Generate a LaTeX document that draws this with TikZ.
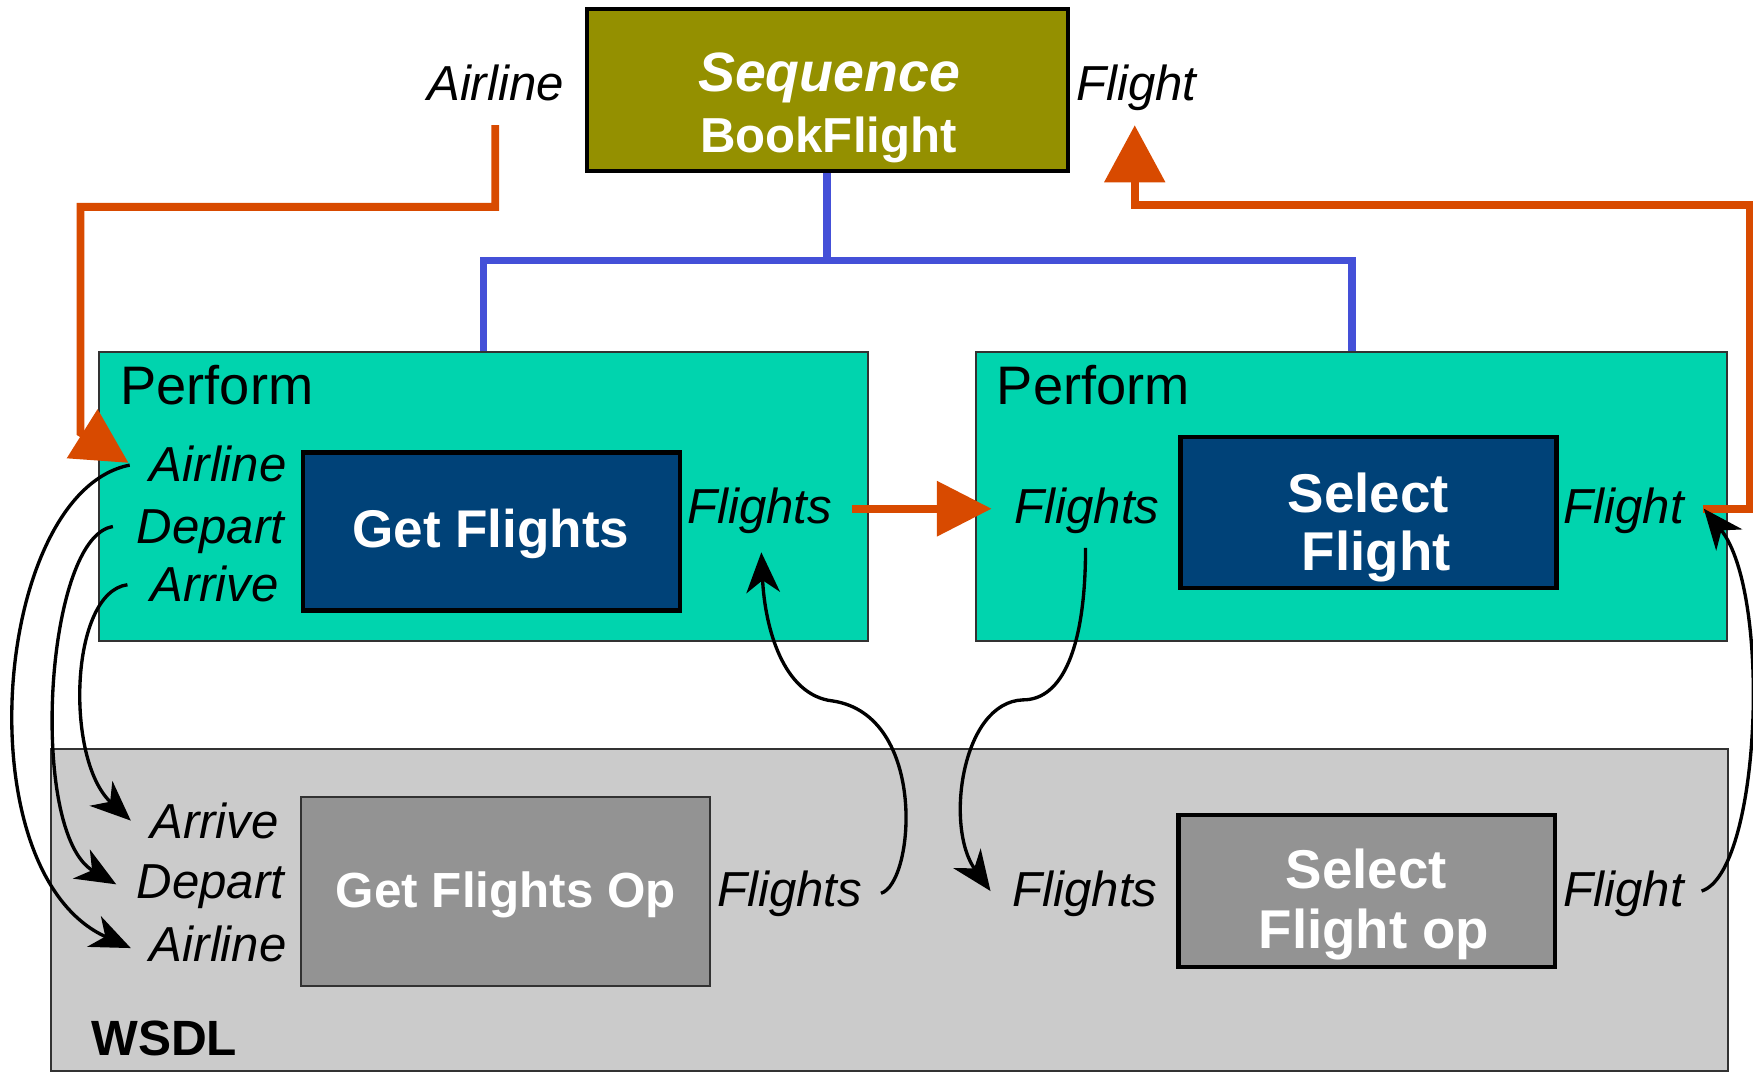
\documentclass[tikz,border=0pt]{standalone}
\usepackage{fontspec}
\setmainfont{Liberation Sans}
\usetikzlibrary{arrows.meta}
\definecolor{olivebox}{RGB}{148,144,0}
\definecolor{turq}{RGB}{0,212,174}
\definecolor{navybox}{RGB}{0,66,120}
\definecolor{opgray}{RGB}{147,147,147}
\definecolor{wsdlgray}{RGB}{203,203,203}
\definecolor{orangeln}{RGB}{216,74,0}
\definecolor{blueln}{RGB}{68,80,216}
\definecolor{thinborder}{RGB}{50,50,50}
\begin{document}
\begin{tikzpicture}[x=0.01cm,y=-0.01cm,
  thickbox/.style={draw=black,line width=1.15pt,inner sep=0,anchor=center},
  thinbox/.style={draw=thinborder,line width=0.5pt,inner sep=0,anchor=center},
  lbl/.style={inner sep=0,font=\fontsize{12.5}{15}\selectfont\itshape},
  perflbl/.style={inner sep=0,font=\fontsize{13.8}{16}\selectfont},
  boxtxt/.style={inner sep=0,text=white,font=\fontsize{13.9}{16}\selectfont\bfseries},
  orangeline/.style={draw=orangeln,line width=2pt},
  blueline/.style={draw=blueln,line width=2pt},
  curve/.style={draw=black,line width=0.85pt,-{Stealth[length=3.6mm,width=3mm,inset=1.1mm]}}
]
\useasboundingbox (0,0) rectangle (1568,959);

% containers
\node[thinbox,fill=wsdlgray,minimum width=14.99cm,minimum height=2.88cm] (wsdl) at (795.5,814) {};
\node[thinbox,fill=turq,minimum width=6.87cm,minimum height=2.58cm] (perf1) at (432.5,444) {};
\node[thinbox,fill=turq,minimum width=6.71cm,minimum height=2.58cm] (perf2) at (1209,444) {};

% boxes
\node[thickbox,fill=olivebox,minimum width=4.30cm,minimum height=1.45cm] (seq) at (740,80.5) {};
\node[thickbox,fill=navybox,minimum width=3.37cm,minimum height=1.41cm] (getF) at (439.5,475.5) {};
\node[thickbox,fill=navybox,minimum width=3.36cm,minimum height=1.35cm] (selF) at (1224,458.5) {};
\node[thinbox,fill=opgray,minimum width=3.66cm,minimum height=1.69cm] (getOp) at (452,797.5) {};
\node[thickbox,fill=opgray,minimum width=3.37cm,minimum height=1.36cm] (selOp) at (1222.5,797) {};

% box texts
\node[boxtxt,anchor=base,font=\fontsize{14.1}{16}\selectfont\bfseries\itshape] (seqT1) at (741.5,82) {Sequence};
\node[boxtxt,anchor=base,font=\fontsize{12.5}{15}\selectfont\bfseries] (seqT2) at (741,136) {BookFlight};
\node[boxtxt,anchor=base,font=\fontsize{13.5}{16}\selectfont\bfseries] (getFT) at (439,490) {Get Flights};
\node[boxtxt,anchor=base] (selFT1) at (1224,458) {Select};
\node[boxtxt,anchor=base] (selFT2) at (1231,510) {Flight};
\node[boxtxt,anchor=base,font=\fontsize{12.55}{15}\selectfont\bfseries] (getOpT) at (452.5,812) {Get Flights Op};
\node[boxtxt,anchor=base] (selOpT1) at (1222,795) {Select};
\node[boxtxt,anchor=base] (selOpT2) at (1229,848) {Flight op};

% container titles
\node[perflbl,anchor=base west] (perf1T) at (107,362) {Perform};
\node[perflbl,anchor=base west] (perf2T) at (891,362) {Perform};
\node[inner sep=0,anchor=base west,font=\fontsize{12.6}{15}\selectfont\bfseries] (wsdlT) at (81,944) {WSDL};

% top labels
\node[lbl,anchor=base east] (airTop) at (505,89.5) {Airline};
\node[lbl,anchor=base west] (flightTop) at (962,89.5) {Flight};

% perform 1 labels
\node[lbl,anchor=base east] (p1Air) at (257,431) {Airline};
\node[lbl,anchor=base east] (p1Dep) at (255,486) {Depart};
\node[lbl,anchor=base east] (p1Arr) at (250,538) {Arrive};
\node[lbl,anchor=base west] (p1Fl) at (614,468) {Flights};

% perform 2 labels
\node[lbl,anchor=base west] (p2Fls) at (907,468) {Flights};
\node[lbl,anchor=base west] (p2Fl) at (1398,468) {Flight};

% wsdl labels
\node[lbl,anchor=base east] (wArr) at (250,750) {Arrive};
\node[lbl,anchor=base east] (wDep) at (255,804) {Depart};
\node[lbl,anchor=base east] (wAir) at (257,860) {Airline};
\node[lbl,anchor=base west] (wFls) at (641,811) {Flights};
\node[lbl,anchor=base west] (wFls2) at (905,811) {Flights};
\node[lbl,anchor=base west] (wFl) at (1398,811) {Flight};

% connector end points
\coordinate (o1s) at (443,112);
\coordinate (o1e) at (115,414);
\coordinate (o2s) at (762,455);
\coordinate (o2e) at (887,455);
\coordinate (o3s) at (1523,455);
\coordinate (o3e) at (1015,112);
\coordinate (c1s) at (116,416);
\coordinate (c1e) at (117,848);
\coordinate (c2s) at (101,471);
\coordinate (c2e) at (104,791);
\coordinate (c3s) at (114,523);
\coordinate (c3e) at (117,734);
\coordinate (c4s) at (788,799);
\coordinate (c4e) at (681,494);
\coordinate (c5s) at (971,490);
\coordinate (c5e) at (886,797);
\coordinate (c6s) at (1522,797);
\coordinate (c6e) at (1524,455);

% blue tree
\draw[blueline] (seq.south) -- (seq.south |- 0,233);
\draw[blueline] (perf1.north) |- (perf2.north |- 0,233) -- (perf2.north);

% orange data flow
\draw[orangeline,-{Triangle[length=4.9mm,width=5mm]}] (o1s) |- (72,185) -- (72,387) -- (o1e);
\draw[orangeline,-{Triangle[length=4.9mm,width=4.8mm]}] (o2s) -- (o2e);
\draw[orangeline,-{Triangle[length=5.1mm,width=5.3mm]}] (o3s) -- (1565,455) -- (1565,183) -- (1015,183) -- (o3e);

% black mapping curves
\draw[curve] (c1s) .. controls (-6,440) and (-34,780) .. (c1e);
\draw[curve] (c2s) .. controls (40,480) and (25,745) .. (c2e);
\draw[curve] (c3s) .. controls (62,530) and (58,680) .. (c3e);
\draw[curve] (c4s) .. controls (818,790) and (830,640) .. (745,627) .. controls (700,622) and (684,560) .. (c4e);
\draw[curve] (c5s) .. controls (971,580) and (950,626) .. (915,626) .. controls (860,628) and (845,740) .. (c5e);
\draw[curve] (c6s) .. controls (1575,780) and (1585,530) .. (c6e);
\end{tikzpicture}
\end{document}
